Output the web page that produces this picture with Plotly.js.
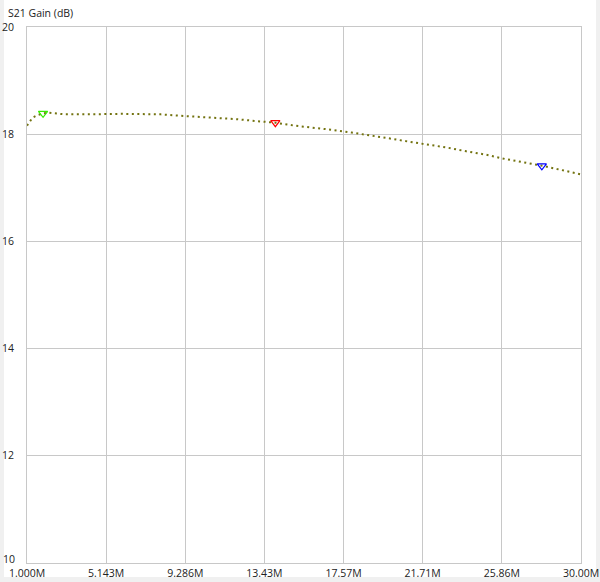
<!DOCTYPE html>
<html>
<head>
<meta charset="utf-8">
<script src="https://cdn.plot.ly/plotly-3.0.1.min.js"></script>
<style>
html,body{margin:0;padding:0;background:#f0f0f0;width:600px;height:582px;overflow:hidden;}
#panel{position:absolute;left:4px;top:0px;width:592px;height:577px;background:#ffffff;}
#chart{position:absolute;left:0px;top:0px;width:600px;height:582px;}
</style>
</head>
<body>
<div id="panel"></div>
<div id="chart"></div>
<script>
// Frequency (MHz) and S21 gain (dB)
const freqMHz = [1.0, 1.29, 1.58, 1.87, 2.16, 2.5, 3, 4, 5, 6, 7, 8, 9, 10, 11, 12, 13, 14, 15, 16, 17, 18, 19, 20, 21, 22, 23, 24, 25, 26, 27, 28, 29, 30];
const gainDb = [18.16, 18.31, 18.36, 18.39, 18.40, 18.39, 18.37, 18.37, 18.38, 18.38, 18.375, 18.37, 18.345, 18.325, 18.30, 18.28, 18.245, 18.215, 18.16, 18.125, 18.08, 18.03, 17.98, 17.92, 17.86, 17.81, 17.75, 17.68, 17.62, 17.54, 17.48, 17.41, 17.33, 17.25];

// Markers
const markerFreq = [1.84, 14.0, 27.95];
const markerGain = [18.39, 18.215, 17.41];
const markerColors = ['#33ee00', '#ff0000', '#0000ff'];

// Axis ticks
const xTickVals = [1.0, 5.143, 9.286, 13.43, 17.57, 21.71, 25.86, 30.0];
const xTickText = ['1.000M', '5.143M', '9.286M', '13.43M', '17.57M', '21.71M', '25.86M', '30.00M'];
const yTickVals = [10, 12, 14, 16, 18, 20];
const yTickText = ['10', '12', '14', '16', '18', '20'];

const traces = [
  {
    x: freqMHz, y: gainDb, type: 'scatter', mode: 'lines',
    line: {color: '#737310', width: 2, dash: '2px,3.5px', shape: 'linear'},
    hoverinfo: 'skip', showlegend: false
  }
];
markerFreq.forEach((f, i) => {
  traces.push({
    x: [f], y: [markerGain[i]], type: 'scatter', mode: 'markers',
    marker: {symbol: 'triangle-down-open', size: 8, color: markerColors[i], line: {width: 1.2, color: markerColors[i]}},
    showlegend: false, hoverinfo: 'skip'
  });
});

const fnt = {family: '"Open Sans", "Noto Sans", sans-serif', size: 10.5, color: '#222'};

// The bottom y label sits slightly raised (as in the reference), drawn as an annotation
const yAxisText = yTickText.slice(1);
const yAxisVals = yTickVals.slice(1);

const layout = {
  width: 600, height: 582,
  margin: {l: 27, r: 19, t: 27, b: 19, pad: 0},
  paper_bgcolor: 'rgba(0,0,0,0)', plot_bgcolor: '#ffffff',
  showlegend: false,
  font: fnt,
  xaxis: {
    range: [1, 30], tickmode: 'array', tickvals: xTickVals, ticktext: xTickText,
    showgrid: true, gridcolor: '#c8c8c8', gridwidth: 1,
    showline: true, linecolor: '#c8c8c8', mirror: true, zeroline: false,
    ticks: '', ticklen: 0, tickfont: fnt, fixedrange: true
  },
  yaxis: {
    range: [10, 20], tickmode: 'array', tickvals: yAxisVals, ticktext: yAxisText,
    showgrid: true, gridcolor: '#c8c8c8', gridwidth: 1,
    showline: true, linecolor: '#c8c8c8', mirror: true, zeroline: false,
    ticks: '', ticklen: 0, tickfont: fnt, fixedrange: true,
    ticklabelstandoff: 10
  },
  annotations: [
    {
      text: 'S21 Gain (dB)', xref: 'paper', yref: 'paper',
      x: 0, y: 1, xshift: -21, yshift: 14, xanchor: 'left', yanchor: 'middle',
      showarrow: false, font: fnt
    },
    {
      text: yTickText[0], xref: 'paper', yref: 'y',
      x: 0, y: yTickVals[0], xshift: -10, yshift: 4, xanchor: 'right', yanchor: 'middle',
      showarrow: false, font: fnt
    }
  ]
};

Plotly.newPlot('chart', traces, layout, {displayModeBar: false, staticPlot: true});
</script>
</body>
</html>
